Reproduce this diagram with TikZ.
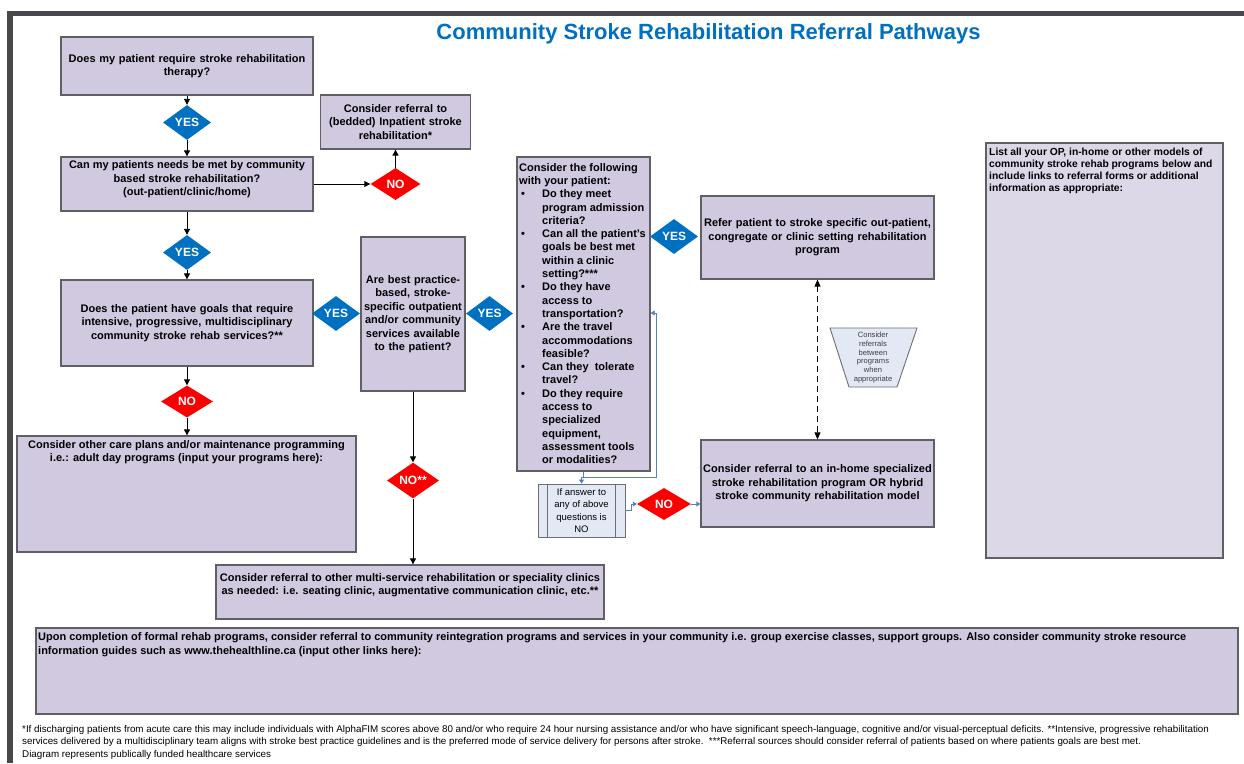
\documentclass[tikz,border=0pt]{standalone}
\usepackage{fontspec}
\setmainfont{Liberation Sans}
\usetikzlibrary{shapes.geometric,arrows.meta}

\definecolor{boxfill}{RGB}{208,201,223}
\definecolor{panelfill}{RGB}{221,216,232}
\definecolor{boxline}{RGB}{95,95,102}
\definecolor{yesblue}{RGB}{0,112,192}
\definecolor{nored}{RGB}{250,0,0}
\definecolor{titleblue}{RGB}{0,112,192}
\definecolor{linkblue}{RGB}{84,130,190}
\definecolor{notefill}{RGB}{226,232,244}
\definecolor{noteline}{RGB}{110,110,116}
\definecolor{framegray}{RGB}{72,72,76}

\newcommand{\bulitem}{\makebox[23pt][l]{\hspace{2pt}\textbullet}}
\newcommand{\bulcont}{\hspace*{23pt}}

\tikzset{
  box/.style={draw=boxline, fill=boxfill, line width=1.3pt, inner sep=0pt,
    font=\fontsize{11}{13.5}\selectfont\bfseries, align=center},
  boxtext/.style={inner sep=0pt, font=\fontsize{11}{13.5}\selectfont\bfseries},
  yesdia/.style={diamond, fill=yesblue, inner sep=0pt, text=white,
    font=\fontsize{12}{12}\selectfont\bfseries, minimum width=48pt, minimum height=35pt},
  nodia/.style={diamond, fill=nored, inner sep=0pt, text=white,
    font=\fontsize{12}{12}\selectfont\bfseries, minimum width=50pt, minimum height=32pt},
  flow/.style={draw=black, line width=0.9pt, -{Triangle[length=6pt,width=6pt]}},
  link/.style={draw=linkblue, line width=0.8pt, -{Triangle[length=4pt,width=5pt]}},
  linkplain/.style={draw=linkblue, line width=0.8pt},
  notebox/.style={draw=noteline, fill=notefill, line width=0.9pt},
}

\begin{document}
\begin{tikzpicture}[x=1pt,y=-1pt]
\useasboundingbox (0,0) rectangle (1244,763);
\fill[white] (0,0) rectangle (1244,763);

% page frame
\fill[framegray] (7,11) rectangle (1244,16);
\fill[framegray] (7,11) rectangle (13,763);

% title
\node[font=\fontsize{22}{22}\selectfont\bfseries, text=titleblue, inner sep=0pt] (title) at (708.5,33.5)
  {Community Stroke Rehabilitation Referral Pathways};

% left column
\node[box, minimum width=252pt, minimum height=58pt, text width=240pt] (q1) at (187,66)
  {Does my patient require stroke rehabilitation\\ therapy?};
\node[yesdia] (yes1) at (187,122.5) {YES};
\node[box, minimum width=252pt, minimum height=54pt] (q2) at (187,184) {};
\node[boxtext, align=center] (q2t) at (187,179.5)
  {Can my patients needs be met by community\\ based stroke rehabilitation?\\ (out-patient/clinic/home)};
\node[box, minimum width=150pt, minimum height=54pt, text width=145pt] (inpt) at (395.5,122)
  {Consider referral to\\ (bedded) Inpatient stroke\\ rehabilitation*};
\node[nodia] (no1) at (395.5,184) {NO};
\node[yesdia] (yes2) at (187,252.5) {YES};
\node[box, minimum width=252pt, minimum height=86pt, text width=245pt] (q3) at (187,323)
  {Does the patient have goals that require\\ intensive, progressive, multidisciplinary\\ community stroke rehab services?**};
\node[yesdia] (yes3) at (336,313.5) {YES};
\node[box, minimum width=104pt, minimum height=154pt, text width=102pt] (q4) at (413,314)
  {Are best practice-\\ based, stroke-\\ specific outpatient\\ and/or community\\ services available\\ to the patient?};
\node[yesdia, minimum width=47pt] (yes4) at (489.5,313.5) {YES};
\node[nodia, minimum width=52pt] (no2) at (187,401.5) {NO};
\node[box, minimum width=339pt, minimum height=116pt] (care) at (186.5,494) {};
\node[boxtext, align=center] (caret) at (186.5,452)
  {Consider other care plans and/or maintenance programming\\ i.e.: adult day programs (input your programs here):};
\node[nodia, minimum width=52pt] (no4) at (413,480.5) {NO**};
\node[box, minimum width=388pt, minimum height=54pt] (multi) at (410,592) {};
\node[boxtext, align=center] (multit) at (410,585)
  {Consider referral to other multi-service rehabilitation or speciality clinics\\ as needed: i.e. seating clinic, augmentative communication clinic, etc.**};

% checklist column
\node[box, minimum width=133pt, minimum height=314pt] (check) at (583.5,314) {};
\node[inner sep=0pt, font=\fontsize{11}{13.3}\selectfont\bfseries, align=left, anchor=north west] (checkt) at (519,163)
  {Consider the following\\ with your patient:\\
   \bulitem Do they meet\\ \bulcont program admission\\ \bulcont criteria?\\
   \bulitem Can all the patient's\\ \bulcont goals be best met\\ \bulcont within a clinic\\ \bulcont setting?***\\
   \bulitem Do they have\\ \bulcont access to\\ \bulcont transportation?\\
   \bulitem Are the travel\\ \bulcont accommodations\\ \bulcont feasible?\\
   \bulitem Can they\ \ tolerate\\ \bulcont travel?\\
   \bulitem Do they require\\ \bulcont access to\\ \bulcont specialized\\ \bulcont equipment,\\ \bulcont assessment tools\\ \bulcont or modalities?};
\node[yesdia] (yes5) at (674,236.5) {YES};
\node[box, minimum width=233pt, minimum height=83pt, text width=230pt] (clinic) at (817.5,237.5)
  {Refer patient to stroke specific out-patient,\\ congregate or clinic setting rehabilitation\\ program};
\node[box, minimum width=233pt, minimum height=87pt, text width=230pt] (inhome) at (817.5,483.5)
  {Consider referral to an in-home specialized\\ stroke rehabilitation program OR hybrid\\ stroke community rehabilitation model};

% note between the two program boxes
\draw[notebox] (830,328) -- (917,328) -- (897,387) -- (849,387) -- cycle;
\node[inner sep=0pt, align=center, text=black!75, font=\fontsize{7.6}{8.8}\selectfont] (trapt) at (873,357.5)
  {Consider\\ referrals\\ between\\ programs\\ when\\ appropriate};

% "if any answer is no" process box
\node[notebox, minimum width=87pt, minimum height=53pt, inner sep=0pt, align=center,
  font=\fontsize{9.5}{12.3}\selectfont] (ifno) at (581.5,510.5)
  {If answer to\\ any of above\\ questions is\\ NO};
\draw[noteline, line width=0.9pt] ([xshift=10pt]ifno.north west) -- ([xshift=10pt]ifno.south west);
\draw[noteline, line width=0.9pt] ([xshift=-10pt]ifno.north east) -- ([xshift=-10pt]ifno.south east);
\node[nodia, minimum width=54pt] (no3) at (664,504) {NO};

% right panel
\node[box, fill=panelfill, minimum width=237pt, minimum height=415pt] (panel) at (1104.5,350.5) {};
\node[inner sep=0pt, anchor=north west, align=left, font=\fontsize{10.3}{12.2}\selectfont\bfseries] (panelt) at (989,147.5)
  {List all your OP, in-home or other models of\\ community stroke rehab programs below and\\ include links to referral forms or additional\\ information as appropriate:};

% bottom box
\node[box, minimum width=1202pt, minimum height=86pt] (reint) at (637,671) {};
\node[inner sep=0pt, anchor=north west, align=left, font=\fontsize{11}{14}\selectfont\bfseries] (reintt) at (38,632)
  {Upon completion of formal rehab programs, consider referral to community reintegration programs and services in your community i.e. group exercise classes, support groups. Also consider community stroke resource\\ information guides such as www.thehealthline.ca (input other links here):};

% footnotes
\node[inner sep=0pt, anchor=north west, align=left, font=\fontsize{9.8}{12.5}\selectfont] (notes) at (22,725)
  {*If discharging patients from acute care this may include individuals with AlphaFIM scores above 80 and/or who require 24 hour nursing assistance and/or who have significant speech-language, cognitive and/or visual-perceptual deficits. **Intensive, progressive rehabilitation\\
   services delivered by a multidisciplinary team aligns with stroke best practice guidelines and is the preferred mode of service delivery for persons after stroke.\ \ ***Referral sources should consider referral of patients based on where patients goals are best met.\\
   Diagram represents publically funded healthcare services};

% connectors
\draw[flow] (q1.south) -- (yes1.north);
\draw[flow] (yes1.south) -- (q2.north);
\draw[flow] (q2.south) -- (yes2.north);
\draw[flow] (yes2.south) -- (q3.north);
\draw[flow] (q2.east) -- (no1.west);
\draw[flow] (no1.north) -- (inpt.south);
\draw[flow] (q3.south) -- (no2.north);
\draw[flow] (no2.south) -- (no2.south |- care.north);
\draw[flow] (q4.south) -- (no4.north);
\draw[flow] (no4.south) -- (no4.south |- multi.north);
\draw[line width=1pt, dash pattern=on 6pt off 4pt,
  {Triangle[length=7pt,width=6pt]}-{Triangle[length=7pt,width=6pt]}]
  (clinic.south) -- (clinic.south |- inhome.north);

\coordinate (jl) at (581.5,477);
\coordinate (jr) at (656,477);
\coordinate (ret) at (656,313);
\draw[linkplain] (check.south) -- (check.south |- jr);
\draw[link] (jl) -- (ifno.north);
\draw[link] (jl) -- (jr) -- (ret) -- (ret -| check.east);
\draw[link] (ifno.east) -- ++(6,0) |- (no3.west);
\draw[link] (no3.east) -- (no3.east -| inhome.west);
\end{tikzpicture}
\end{document}
